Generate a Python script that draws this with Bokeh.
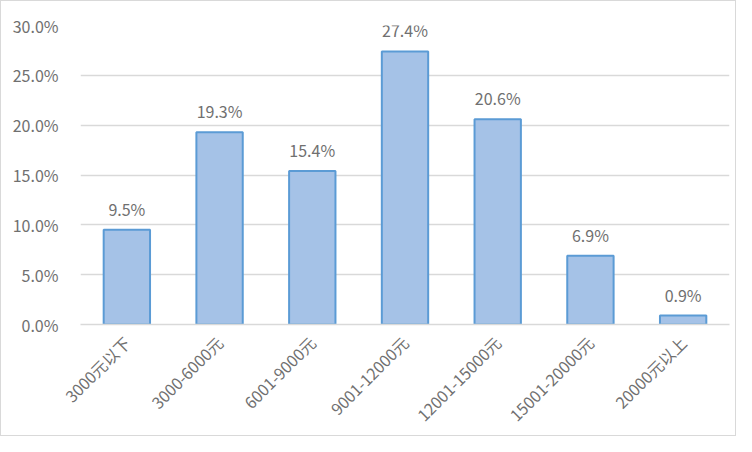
from math import pi
from bokeh.plotting import figure
from bokeh.models import ColumnDataSource, Range1d, NumeralTickFormatter, FactorRange, LabelSet
from bokeh.core.properties import value
from bokeh.embed import file_html
from bokeh.resources import INLINE

categories = ["3000元以下", "3000-6000元", "6001-9000元", "9001-12000元",
              "12001-15000元", "15001-20000元", "20000元以上"]
shares = [0.095, 0.193, 0.154, 0.274, 0.206, 0.069, 0.009]
share_labels = ["9.5%", "19.3%", "15.4%", "27.4%", "20.6%", "6.9%", "0.9%"]
y_ticks = [0.0, 0.05, 0.10, 0.15, 0.20, 0.25, 0.30]

FONT = "Noto Sans CJK SC"
GRAY = "#707070"

src = ColumnDataSource(dict(cat=categories, val=shares, lab=share_labels))

p = figure(x_range=FactorRange(*categories, range_padding=0),
           y_range=Range1d(0, 0.30),
           width=736, height=436, output_backend="svg", toolbar_location=None,
           min_border_left=79, min_border_right=8, min_border_top=24,
           min_border_bottom=113)
p.outline_line_color = None
p.background_fill_color = "white"
p.border_fill_color = "white"
p.styles = {"border": "1px solid #d9d9d9", "box-sizing": "border-box"}

p.vbar(x="cat", top="val", width=0.5, source=src,
       fill_color="#a5c2e7", line_color="#5b9bd5", line_width=2)

labels = LabelSet(x="cat", y="val", text="lab", source=src,
                  text_font=value(FONT), text_font_size="16px", text_color=GRAY,
                  text_align="center", text_baseline="alphabetic", y_offset=14)
p.add_layout(labels)

p.yaxis.ticker = y_ticks
p.yaxis.formatter = NumeralTickFormatter(format="0.0%")
p.yaxis.axis_line_color = None
p.yaxis.major_tick_line_color = None
p.yaxis.minor_tick_line_color = None
p.yaxis.major_label_text_font = FONT
p.yaxis.major_label_text_font_size = "16px"
p.yaxis.major_label_text_color = GRAY
p.yaxis.major_label_standoff = 16

p.xaxis.axis_line_color = "#d9d9d9"
p.xaxis.axis_line_width = 1.5
p.xaxis.major_tick_line_color = None
p.xaxis.minor_tick_line_color = None
p.xaxis.major_label_orientation = pi / 4
p.xaxis.major_label_text_font = FONT
p.xaxis.major_label_text_font_size = "16px"
p.xaxis.major_label_text_color = GRAY
p.xaxis.major_label_standoff = 9

p.xgrid.grid_line_color = None
p.ygrid.grid_line_color = "#d9d9d9"
p.ygrid.grid_line_width = 1.5

open("out.html", "w").write(file_html(p, INLINE))
